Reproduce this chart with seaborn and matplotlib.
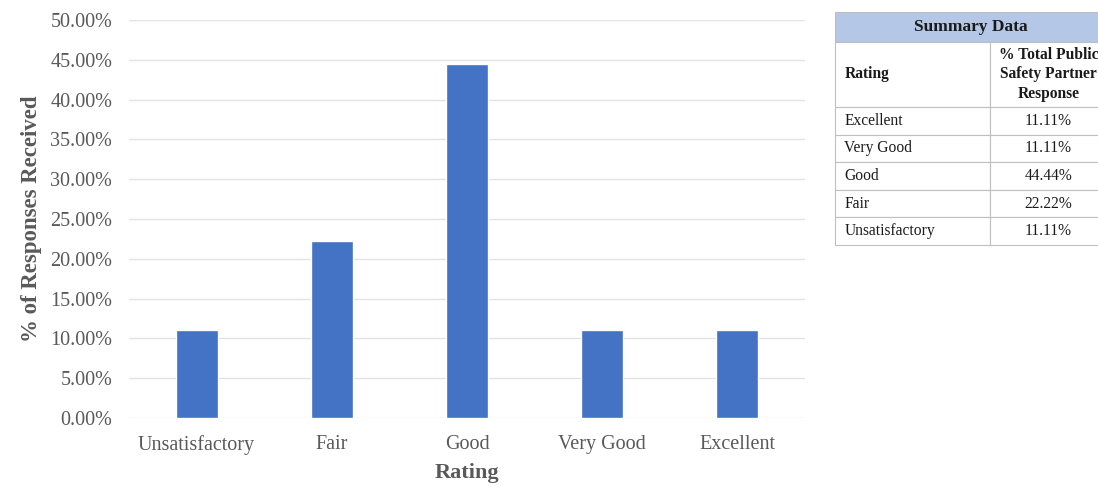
import matplotlib
matplotlib.use("Agg")
import matplotlib.pyplot as plt
from matplotlib.ticker import FuncFormatter, MultipleLocator
import seaborn as sns
import pandas as pd

# Survey results: share of responses per rating
ratings = ["Unsatisfactory", "Fair", "Good", "Very Good", "Excellent"]
percent_received = [11.11, 22.22, 44.44, 11.11, 11.11]

# Summary table rows (listed best to worst)
table_ratings = ["Excellent", "Very Good", "Good", "Fair", "Unsatisfactory"]
table_values = ["11.11%", "11.11%", "44.44%", "22.22%", "11.11%"]
table_title = "Summary Data"
table_headers = ["Rating", "% Total Public\nSafety Partner\nResponse"]

sns.set_theme(style="white")
plt.rcParams["font.family"] = ["Liberation Serif", "DejaVu Serif"]

df = pd.DataFrame({"Rating": ratings, "Percent": percent_received})

fig = plt.figure(figsize=(10.98, 4.87), dpi=100)
ax = fig.add_axes([129 / 1098, 69 / 487, 676 / 1098, 398 / 487])

sns.barplot(data=df, x="Rating", y="Percent", order=ratings,
            color="#4472C4", saturation=1, width=0.31, ax=ax)

ax.set_ylim(0, 50)
ax.yaxis.set_major_locator(MultipleLocator(5))
ax.yaxis.set_major_formatter(FuncFormatter(lambda v, _: f"{v:.2f}%"))
ax.grid(axis="y", color="#e3e3e3", linewidth=1.0)
ax.set_axisbelow(True)
for s in ax.spines.values():
    s.set_visible(False)
ax.tick_params(axis="both", length=0, labelsize=14.5, labelcolor="#595959")
ax.tick_params(axis="y", pad=12)
ax.tick_params(axis="x", pad=12)
ax.set_xlabel("Rating", fontsize=16, fontweight="bold", color="#595959", labelpad=6)
ax.set_ylabel("% of Responses Received", fontsize=16.5, fontweight="bold",
              color="#595959", labelpad=6)

# Summary table to the right of the chart
tax = fig.add_axes([835 / 1098, (487 - 245) / 487, 272 / 1098, 233 / 487])
tax.axis("off")
head_h = 30
row_heights = [65] + [27.6] * len(table_ratings)
col_widths = [155, 117]
total_h = head_h + sum(row_heights)
body_frac = sum(row_heights) / total_h

# Title band spanning both columns
head = tax.table(cellText=[[table_title]], cellLoc="center",
                 bbox=[0, body_frac, 1, 1 - body_frac])
head.auto_set_font_size(False)
hc = head[0, 0]
hc.set_facecolor("#b4c7e7")
hc.set_edgecolor("#bfbfbf")
hc.set_linewidth(0.8)
hc.get_text().set_fontsize(12.5)
hc.get_text().set_fontweight("bold")
hc.get_text().set_color("#1a1a1a")

rows = [table_headers] + [[r, v] for r, v in zip(table_ratings, table_values)]
tbl = tax.table(cellText=rows, cellLoc="center", bbox=[0, 0, 1, body_frac])
tbl.auto_set_font_size(False)
tbl.set_fontsize(11.2)
for (r, c), cell in tbl.get_celld().items():
    cell.set_height(row_heights[r] / total_h)
    cell.set_width(col_widths[c] / sum(col_widths))
    cell.set_edgecolor("#bfbfbf")
    cell.set_linewidth(0.8)
    txt = cell.get_text()
    txt.set_color("#1a1a1a")
    if r == 0:
        txt.set_fontweight("bold")
        txt.set_linespacing(1.3)
    if c == 0:
        cell.set_text_props(ha="left")
        cell.PAD = 0.06

fig.savefig("out.png", dpi=100, facecolor="white")
